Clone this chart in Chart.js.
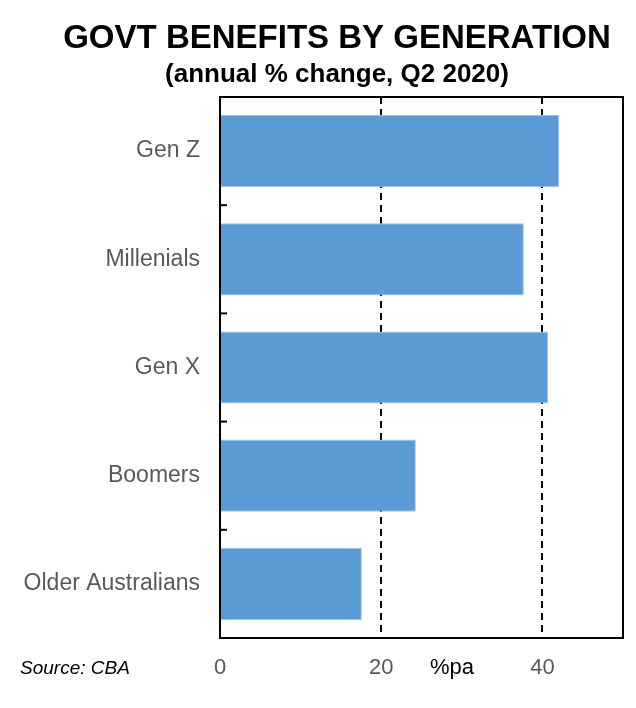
<!DOCTYPE html>
<html>
<head>
<meta charset="utf-8">
<script src="https://cdn.jsdelivr.net/npm/chart.js@4.4.1/dist/chart.umd.min.js"></script>
<style>
  html, body { margin: 0; padding: 0; background: #ffffff; }
  #wrap { width: 636px; height: 708px; position: relative; }
</style>
</head>
<body>
<div id="wrap"><canvas id="c" width="636" height="708"></canvas></div>
<script>
const categories = ["Gen Z", "Millenials", "Gen X", "Boomers", "Older Australians"];
const values = [42.1, 37.7, 40.7, 24.3, 17.6];
const xTicks = [0, 20, 40];
const xMin = 0;
const xMax = 50;
const titleText = "GOVT BENEFITS BY GENERATION";
const subtitleText = "(annual % change, Q2 2020)";
const unitText = "%pa";
const sourceText = "Source: CBA";

const FONT = "'Liberation Sans', Arial, sans-serif";

const decorPlugin = {
  id: 'decor',
  afterDraw(chart) {
    const ctx = chart.ctx;
    const a = chart.chartArea;
    const y = chart.scales.y;
    ctx.save();
    // frame
    ctx.strokeStyle = '#000';
    ctx.lineWidth = 2;
    ctx.setLineDash([]);
    ctx.strokeRect(a.left, a.top, a.right - a.left, a.bottom - a.top);
    // inner category boundary ticks
    for (let i = 0; i < categories.length - 1; i++) {
      const yb = (y.getPixelForTick(i) + y.getPixelForTick(i + 1)) / 2;
      ctx.beginPath();
      ctx.moveTo(a.left, yb);
      ctx.lineTo(a.left + 7, yb);
      ctx.stroke();
    }
    // titles
    ctx.fillStyle = '#000';
    ctx.textAlign = 'center';
    ctx.textBaseline = 'middle';
    ctx.font = "bold 33px " + FONT;
    ctx.fillText(titleText, 337, 39);
    ctx.font = "bold 26px " + FONT;
    ctx.fillText(subtitleText, 337, 75);
    // unit label
    ctx.font = "22px " + FONT;
    ctx.fillText(unitText, 452, 668);
    // source
    ctx.textAlign = 'left';
    ctx.font = "italic 19px " + FONT;
    ctx.fillText(sourceText, 20, 669);
    ctx.restore();
  }
};

new Chart(document.getElementById('c'), {
  type: 'bar',
  data: {
    labels: categories,
    datasets: [{
      data: values,
      backgroundColor: '#5B9BD5',
      borderColor: '#9DC3E6',
      borderWidth: 1,
      borderSkipped: 'start',
      categoryPercentage: 1.0,
      barPercentage: 0.667
    }]
  },
  options: {
    indexAxis: 'y',
    responsive: false,
    animation: false,
    devicePixelRatio: 1,
    layout: { padding: { left: 0, right: 13, top: 97, bottom: 0 } },
    plugins: {
      legend: { display: false },
      title: { display: false },
      tooltip: { enabled: false }
    },
    scales: {
      x: {
        min: xMin,
        max: xMax,
        afterBuildTicks(scale) {
          scale.ticks = xTicks.map(v => ({ value: v }));
        },
        afterFit(scale) { scale.height = 70; },
        grid: {
          color: ctx => (ctx.tick && ctx.tick.value === 0) ? 'rgba(0,0,0,0)' : '#000',
          lineWidth: 2,
          drawTicks: false
        },
        border: { display: false, dash: [7, 5] },
        ticks: {
          color: '#595959',
          font: { family: FONT, size: 22 },
          padding: 17,
          maxRotation: 0
        }
      },
      y: {
        afterFit(scale) { scale.width = 220; },
        grid: { display: false, drawTicks: false },
        border: { display: false },
        ticks: {
          color: '#595959',
          font: { family: FONT, size: 23, lineHeight: 1.0 },
          padding: 20
        }
      }
    }
  },
  plugins: [decorPlugin]
});
</script>
</body>
</html>
